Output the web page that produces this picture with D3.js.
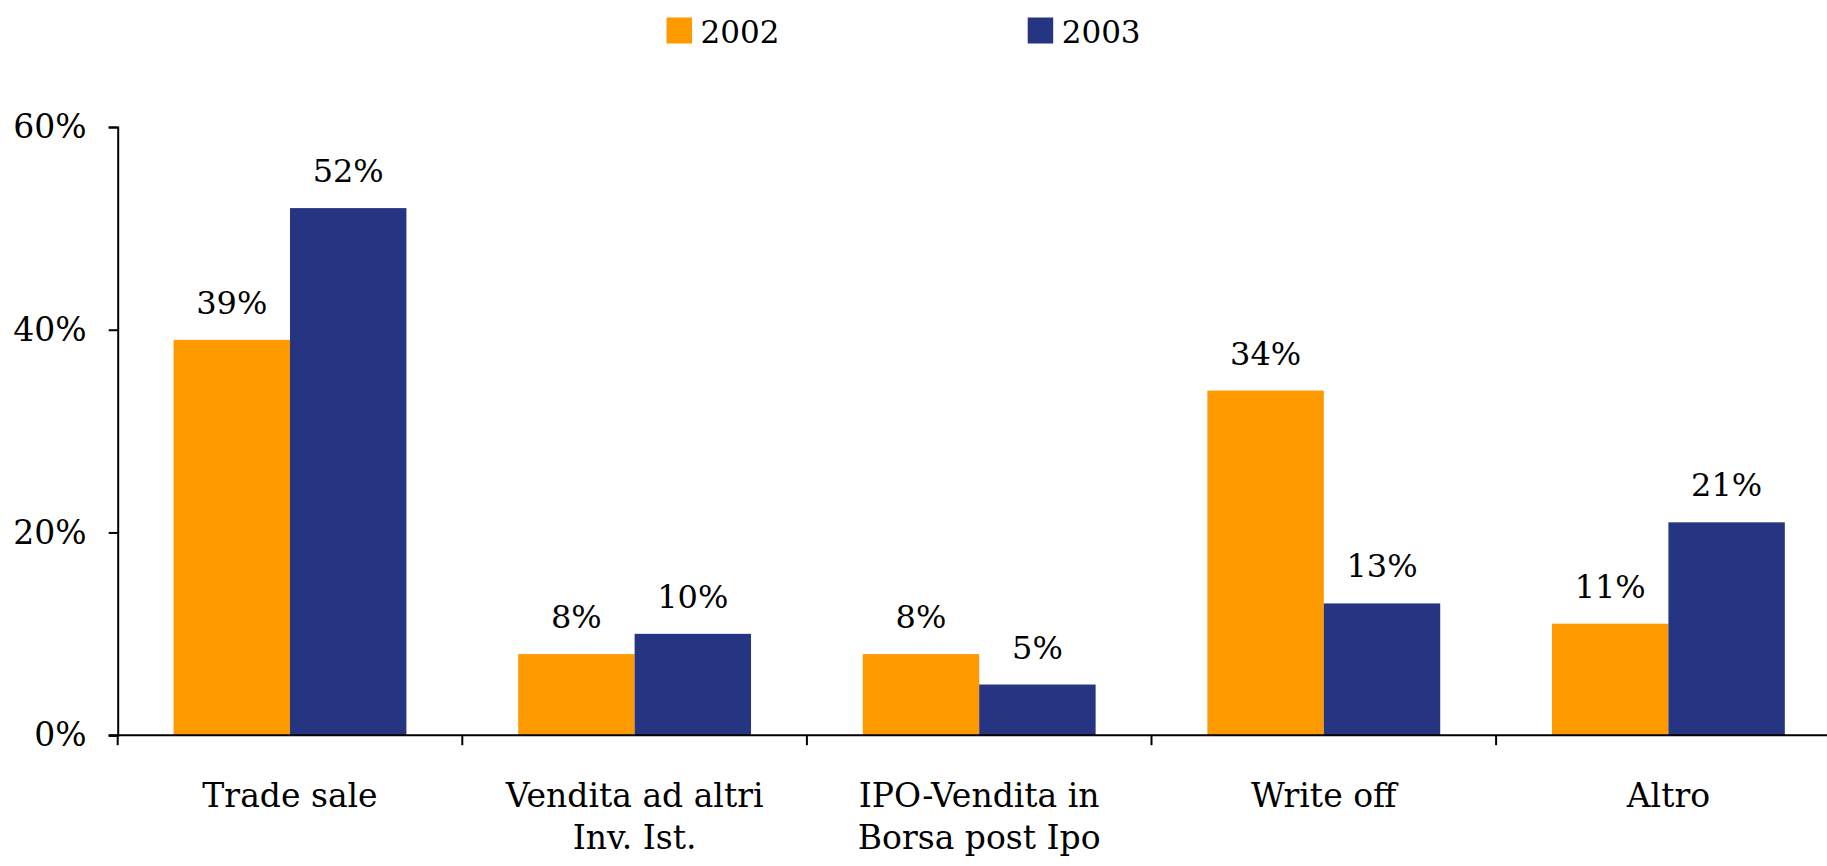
<!DOCTYPE html>
<html><head><meta charset="utf-8">
<script src="https://cdn.jsdelivr.net/npm/d3@7"></script>
<style>
html,body{margin:0;padding:0;background:#fff;}
svg text{font-family:"DejaVu Serif",serif;fill:#000;}
</style></head>
<body>
<svg id="chart" width="1827" height="866"></svg>
<script>
const categories = [["Trade sale"], ["Vendita ad altri", "Inv. Ist."], ["IPO-Vendita in", "Borsa post Ipo"], ["Write off"], ["Altro"]];
const seriesNames = ["2002", "2003"];
const values2002 = [39, 8, 8, 34, 11];
const values2003 = [52, 10, 5, 13, 21];
const yTicks = [0, 20, 40, 60];
const colors = ["#FF9900", "#263581"];

const svg = d3.select("#chart");
const x0 = d3.scaleBand().domain(d3.range(categories.length)).range([117.7, 117.7 + 5 * 344.6]).paddingInner(0).paddingOuter(0);
const x1 = d3.scaleBand().domain(seriesNames).range([0, x0.bandwidth()]).paddingInner(0).paddingOuter(0.48);
const y = d3.scaleLinear().domain([0, 60]).range([735.2, 127]);

const data = [values2002, values2003];

// bars
seriesNames.forEach((s, si) => {
  const g = svg.append("g");
  g.selectAll("rect").data(data[si]).join("rect")
    .attr("x", (d, i) => x0(i) + x1(s))
    .attr("width", x1.bandwidth())
    .attr("y", d => y(d))
    .attr("height", d => y(0) - y(d))
    .attr("fill", colors[si]);
  g.selectAll("text").data(data[si]).join("text")
    .attr("x", (d, i) => x0(i) + x1(s) + x1.bandwidth() / 2)
    .attr("y", d => y(d) - 26)
    .attr("text-anchor", "middle")
    .attr("font-size", 32)
    .text(d => d + "%");
});

// y axis
const yAxis = svg.append("g").attr("transform", "translate(117.7,0)")
  .call(d3.axisLeft(y).tickValues(yTicks).tickFormat(d => d + "%").tickSize(9).tickPadding(22));
yAxis.select(".domain").attr("stroke", "#000").attr("stroke-width", 2);
yAxis.selectAll(".tick line").attr("stroke", "#000").attr("stroke-width", 2);
yAxis.selectAll(".tick text").attr("font-size", 33).attr("font-family", "DejaVu Serif").attr("fill", "#000");

// x axis
const xLine = svg.append("g").attr("transform", "translate(0," + y(0) + ")");
xLine.append("line").attr("x1", x0.range()[0] - 9).attr("x2", x0.range()[1]).attr("stroke", "#000").attr("stroke-width", 2);
const xTickPos = d3.range(categories.length + 1).map(i => x0.range()[0] + i * x0.step());
xLine.selectAll("line.t").data(xTickPos).join("line").attr("class", "t")
  .attr("x1", d => d).attr("x2", d => d).attr("y1", 0).attr("y2", 10)
  .attr("stroke", "#000").attr("stroke-width", 2);

// category labels
categories.forEach((lines, i) => {
  const cx = x0(i) + x0.bandwidth() / 2;
  const t = svg.append("text").attr("text-anchor", "middle").attr("font-size", 33)
    .attr("x", cx).attr("y", 807);
  lines.forEach((l, li) => {
    t.append("tspan").attr("x", cx).attr("dy", li === 0 ? 0 : 42).text(l);
  });
});

// legend
const legendX = [666.5, 1027.7];
seriesNames.forEach((s, si) => {
  svg.append("rect").attr("x", legendX[si]).attr("y", 17.5).attr("width", 25.5).attr("height", 26).attr("fill", colors[si]);
  svg.append("text").attr("x", legendX[si] + 34).attr("y", 43).attr("font-size", 31).text(s);
});
</script>
</body></html>
